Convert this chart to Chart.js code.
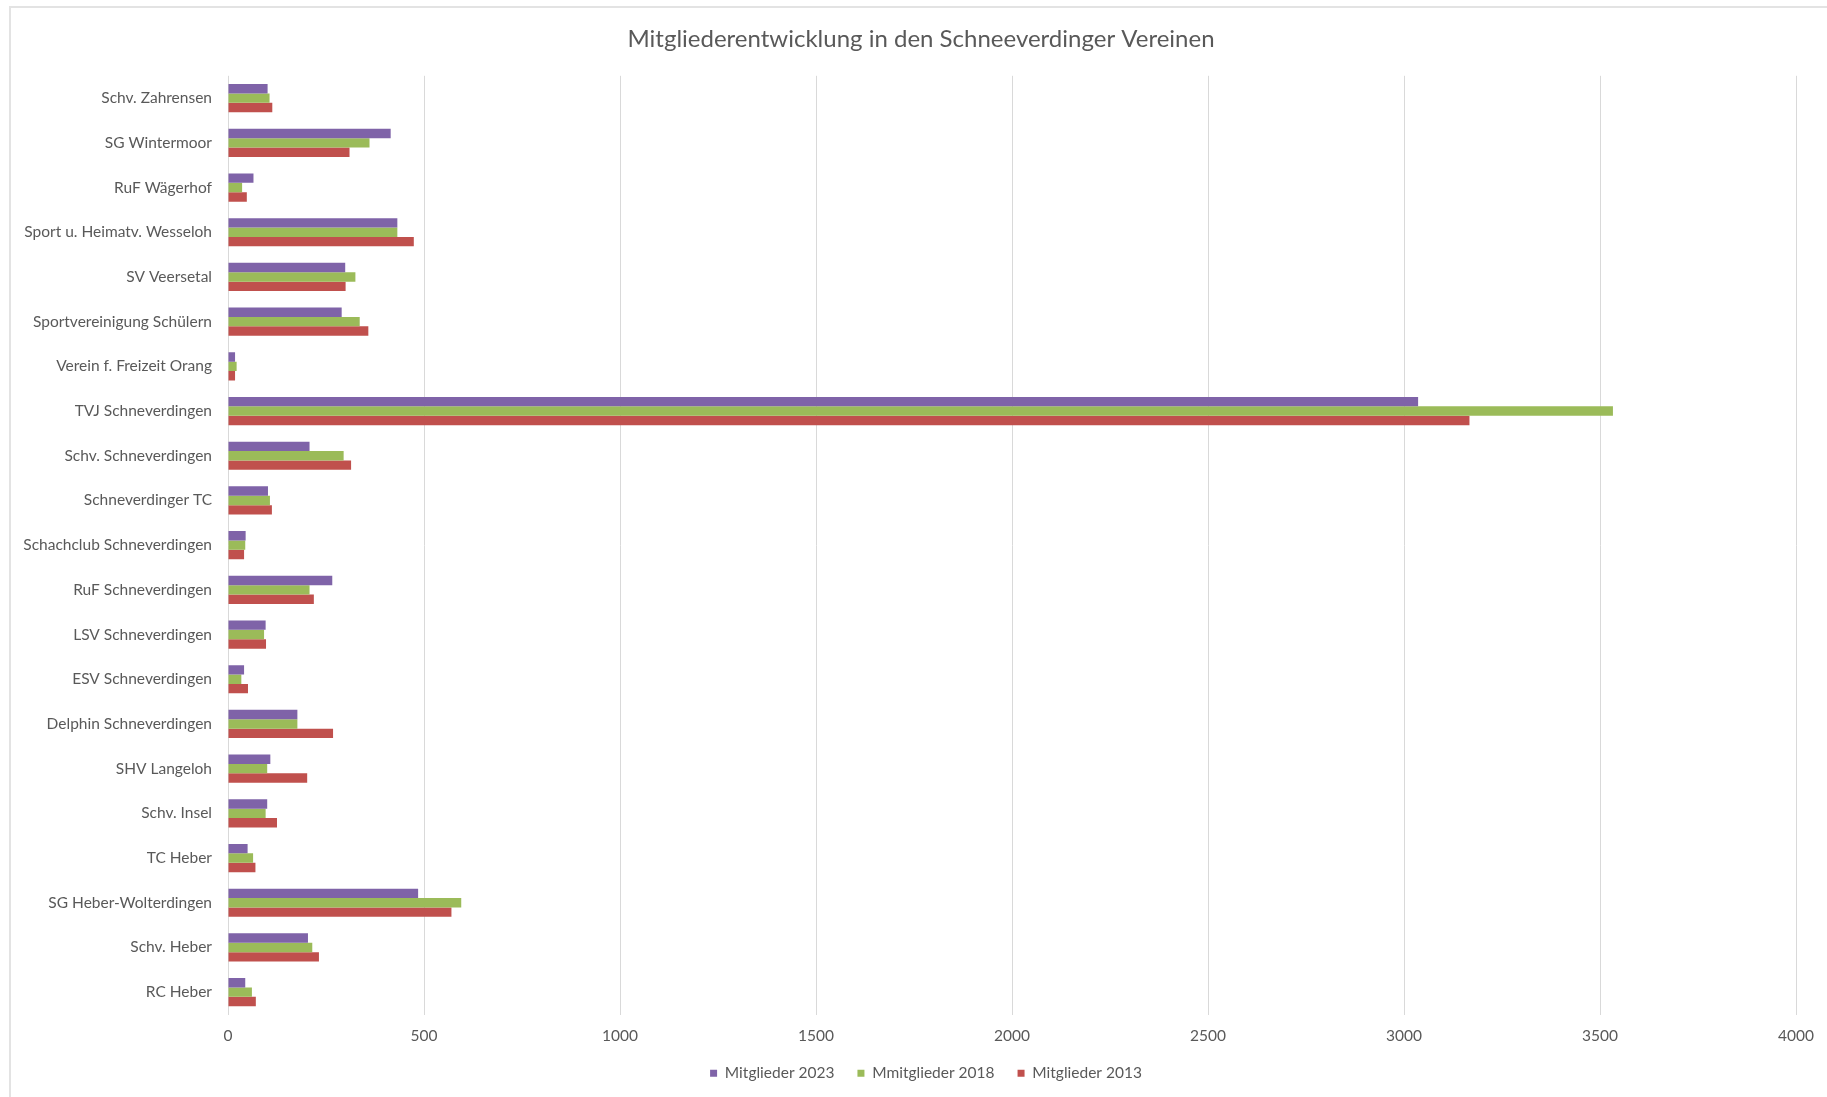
<!DOCTYPE html>
<html lang="de">
<head>
<meta charset="utf-8">
<title>Mitgliederentwicklung in den Schneeverdinger Vereinen</title>
<script src="https://cdn.jsdelivr.net/npm/chart.js@4"></script>
<style>
    html, body { margin: 0; padding: 0; background: #fff; overflow: hidden; }
    #frame {
        position: absolute; left: 9px; top: 6px; width: 1830px; height: 1100px;
        border-left: 2px solid #e3e3e3; border-top: 2px solid #e3e3e3;
    }
    #wrap { position: absolute; left: 0; top: 0; width: 1827px; height: 1097px; }
</style>
</head>
<body>
<div id="frame"></div>
<div id="wrap"><canvas id="chart"></canvas></div>
<script>
const vereine = [
    "Schv. Zahrensen",
    "SG Wintermoor",
    "RuF Wägerhof",
    "Sport u. Heimatv. Wesseloh",
    "SV Veersetal",
    "Sportvereinigung Schülern",
    "Verein f. Freizeit Orang",
    "TVJ Schneverdingen",
    "Schv. Schneverdingen",
    "Schneverdinger TC",
    "Schachclub Schneverdingen",
    "RuF Schneverdingen",
    "LSV Schneverdingen",
    "ESV Schneverdingen",
    "Delphin Schneverdingen",
    "SHV Langeloh",
    "Schv. Insel",
    "TC Heber",
    "SG Heber-Wolterdingen",
    "Schv. Heber",
    "RC Heber",
];

const mitglieder2023 = [101, 415, 65, 432, 299, 290, 18, 3036, 208, 102, 45, 266, 96, 41, 177, 108, 100, 50, 485, 204, 44];
const mitglieder2018 = [106, 361, 36, 432, 325, 336, 22, 3533, 295, 107, 44, 208, 92, 34, 177, 100, 96, 64, 595, 215, 61];
const mitglieder2013 = [113, 310, 48, 474, 300, 358, 18, 3167, 314, 112, 41, 219, 97, 51, 268, 202, 125, 70, 570, 232, 71];

const xTicks = [0, 500, 1000, 1500, 2000, 2500, 3000, 3500, 4000];

const FONT = "Lato, 'Open Sans', sans-serif";
const TEXT = "#595959";

// title and legend sit centred on the whole frame, not on the plot area
const centreOnFrame = {
    id: "centreOnFrame",
    afterLayout(chart) {
        chart.titleBlock.left += 18;
        chart.titleBlock.right += 18;
        chart.legend.left += 23;
        chart.legend.right += 23;
    },
};

new Chart(document.getElementById("chart"), {
    type: "bar",
    data: {
        labels: vereine,
        datasets: [
            { label: "Mitglieder 2023", data: mitglieder2023, backgroundColor: "#7f63a8" },
            { label: "Mmitglieder 2018", data: mitglieder2018, backgroundColor: "#9bbb59" },
            { label: "Mitglieder 2013", data: mitglieder2013, backgroundColor: "#c0504d" },
        ],
    },
    options: {
        indexAxis: "y",
        responsive: true,
        maintainAspectRatio: false,
        animation: false,
        datasets: { bar: { categoryPercentage: 0.63, barPercentage: 1.0, borderWidth: 0 } },
        layout: { padding: { left: 10, right: 31, top: 0, bottom: 6 } },
        plugins: {
            title: {
                display: true,
                text: "Mitgliederentwicklung in den Schneeverdinger Vereinen",
                color: TEXT,
                font: { family: FONT, size: 24, weight: "normal" },
                padding: { top: 25, bottom: 22 },
            },
            legend: {
                position: "bottom",
                labels: {
                    color: TEXT,
                    font: { family: FONT, size: 15.5 },
                    boxWidth: 7,
                    boxHeight: 7,
                    padding: 23,
                },
            },
            tooltip: { enabled: false },
        },
        scales: {
            x: {
                min: 0,
                max: 4000,
                afterBuildTicks: (scale) => { scale.ticks = xTicks.map((v) => ({ value: v })); },
                afterFit: (scale) => { scale.height = 28; },
                ticks: { color: TEXT, font: { family: FONT, size: 15.5 }, padding: 12, callback: (v) => String(v) },
                grid: { color: "#d9d9d9", drawTicks: false },
                border: { display: false },
            },
            y: {
                afterFit: (scale) => { scale.width = 218; },
                ticks: { color: TEXT, font: { family: FONT, size: 15.5 }, padding: 8 },
                grid: { display: false },
                border: { display: false },
            },
        },
    },
    plugins: [centreOnFrame],
});
</script>
</body>
</html>
